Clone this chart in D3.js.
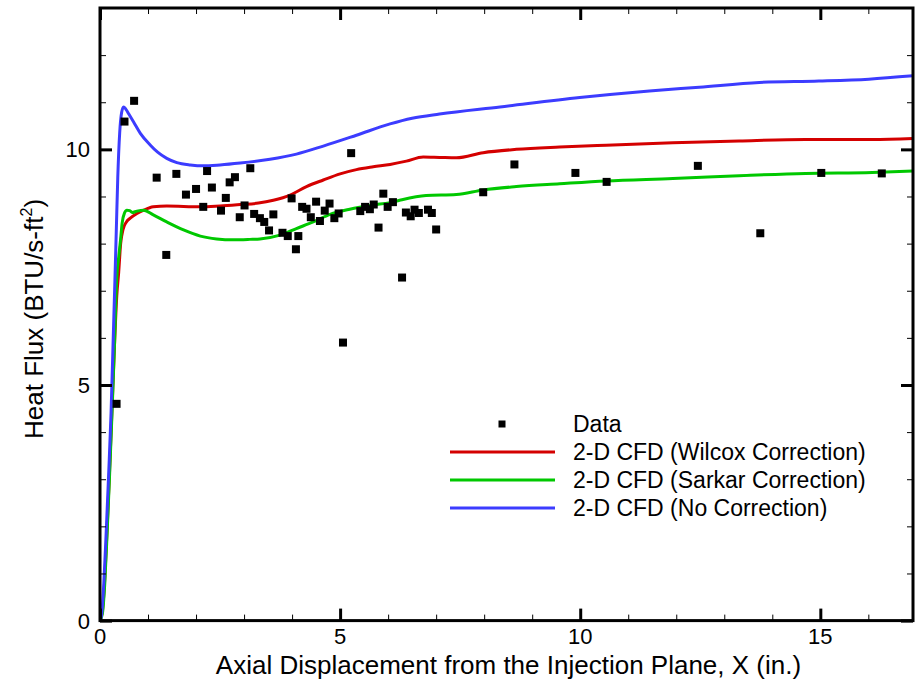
<!DOCTYPE html>
<html>
<head>
<meta charset="utf-8">
<script src="https://cdn.jsdelivr.net/npm/d3@7"></script>
<style>
  html, body { margin: 0; padding: 0; background: #fff; }
  svg text { font-family: Arial, "Liberation Sans", Helvetica, sans-serif; fill: #000; }
</style>
</head>
<body>
<svg id="chart" width="917" height="681"></svg>
<script>
// ---- Data ----
const dataX = [0.345,0.51,0.71,1.18,1.38,1.59,1.79,2.00,2.15,2.23,2.33,2.52,2.62,2.70,2.81,2.91,3.01,3.13,3.21,3.33,3.42,3.61,3.52,3.80,3.91,3.99,4.13,4.08,4.21,4.30,4.39,4.50,4.58,4.68,4.78,4.88,4.97,5.06,5.23,5.42,5.52,5.62,5.70,5.80,5.90,5.99,6.10,6.29,6.37,6.47,6.55,6.64,6.83,6.91,7.00,7.98,8.63,9.90,10.55,12.45,13.75,15.02,16.28];
const dataY = [4.60,10.59,11.03,9.40,7.76,9.48,9.04,9.16,8.78,9.54,9.19,8.70,8.97,9.30,9.41,8.56,8.81,9.60,8.63,8.54,8.46,8.62,8.28,8.23,8.16,8.96,8.16,7.88,8.78,8.74,8.56,8.89,8.48,8.70,8.85,8.54,8.64,5.90,9.92,8.69,8.78,8.73,8.83,8.34,9.06,8.78,8.88,7.28,8.66,8.58,8.72,8.65,8.72,8.65,8.30,9.09,9.68,9.50,9.31,9.65,8.22,9.50,9.49];

const wilcoxX = [0,0.05,0.1,0.15,0.2,0.25,0.3,0.35,0.39,0.43,0.48,0.55,0.63,0.77,0.91,1.11,1.39,2.09,2.5,2.92,3.3,3.61,3.96,4.30,4.65,5.0,5.34,5.69,6.04,6.38,6.73,7.07,7.42,7.98,8.67,9.57,10.54,11.93,13.31,14.69,16.08,16.93];
const wilcoxY = [0,0.2,0.9,2.0,3.2,4.5,5.8,6.9,7.4,8.0,8.3,8.46,8.54,8.64,8.71,8.78,8.80,8.78,8.80,8.83,8.86,8.92,9.03,9.21,9.35,9.48,9.57,9.63,9.68,9.75,9.84,9.83,9.82,9.93,10.00,10.05,10.09,10.14,10.18,10.21,10.21,10.23];

const sarkarX = [0,0.05,0.1,0.15,0.2,0.25,0.3,0.35,0.39,0.43,0.46,0.51,0.56,0.62,0.67,0.77,0.91,1.11,1.39,1.74,2.09,2.43,2.78,3.12,3.33,3.75,4.09,4.44,4.79,5.20,5.69,6.04,6.24,6.79,7.42,7.98,8.67,9.57,10.54,11.93,13.31,14.69,16.08,16.93];
const sarkarY = [0,0.15,0.8,1.9,3.1,4.4,5.8,7.3,7.72,8.1,8.43,8.65,8.71,8.70,8.66,8.69,8.71,8.61,8.46,8.29,8.16,8.10,8.08,8.09,8.10,8.18,8.32,8.46,8.62,8.73,8.82,8.87,8.92,9.02,9.04,9.14,9.21,9.27,9.33,9.38,9.44,9.49,9.51,9.54];

const noCorrX = [0,0.03,0.08,0.13,0.18,0.23,0.27,0.31,0.34,0.37,0.41,0.45,0.49,0.54,0.60,0.70,0.84,1.04,1.2,1.39,1.6,1.88,2.15,2.5,2.92,3.54,4.09,4.65,5.34,6.04,6.5,7.07,8.33,9.99,11.44,12.48,13.73,14.97,16.01,16.93];
const noCorrY = [0,0.1,0.8,1.9,3.1,4.4,5.8,7.2,8.3,9.4,10.35,10.78,10.90,10.85,10.75,10.58,10.34,10.10,9.94,9.81,9.72,9.67,9.65,9.67,9.71,9.79,9.90,10.07,10.30,10.54,10.66,10.75,10.90,11.10,11.24,11.32,11.42,11.45,11.49,11.56];

const xTicks = [0, 5, 10, 15];
const yTicks = [0, 5, 10];
const xMinorTicks = d3.range(0, 17, 1);
const yMinorTicks = d3.range(0, 14, 1);

const seriesNames = ["Data", "2-D CFD (Wilcox Correction)", "2-D CFD (Sarkar Correction)", "2-D CFD (No Correction)"];
const seriesColors = ["#000000", "#d40000", "#00c800", "#3c3cff"];

// ---- Layout ----
const svg = d3.select("#chart");
const L = 100, R = 913, T = 8, B = 620.6;
const x = d3.scaleLinear().domain([0, 16.93]).range([L, R]);
const y = d3.scaleLinear().domain([0, 13]).range([B, T]);

const plot = svg.append("g");
svg.append("clipPath").attr("id", "clip").append("rect")
  .attr("x", L).attr("y", T).attr("width", R - L).attr("height", B - T);

// curves
const curves = [
  [wilcoxX, wilcoxY, seriesColors[1]],
  [sarkarX, sarkarY, seriesColors[2]],
  [noCorrX, noCorrY, seriesColors[3]]
];
const line = d3.line().x(d => x(d[0])).y(d => y(d[1])).curve(d3.curveMonotoneX);
curves.forEach(([xs, ys, c]) => {
  plot.append("path")
    .datum(xs.map((v, i) => [v, ys[i]]))
    .attr("d", line)
    .attr("fill", "none")
    .attr("stroke", c)
    .attr("stroke-width", 3)
    .attr("clip-path", "url(#clip)");
});

// data points
const ms = 8;
plot.selectAll("rect.pt").data(dataX.map((v, i) => [v, dataY[i]])).enter()
  .append("rect").attr("class", "pt")
  .attr("x", d => x(d[0]) - ms / 2).attr("y", d => y(d[1]) - ms / 2)
  .attr("width", ms).attr("height", ms).attr("fill", "#000");

// axes (ticks inward on all sides)
function axisSet() {
  const minX = xMinorTicks.filter(v => !xTicks.includes(v));
  const minY = yMinorTicks.filter(v => !yTicks.includes(v));
  const defs = [
    [`translate(0,${B})`, d3.axisTop(x), minX, xTicks],
    [`translate(0,${T})`, d3.axisBottom(x), minX, xTicks],
    [`translate(${L},0)`, d3.axisRight(y), minY, yTicks],
    [`translate(${R},0)`, d3.axisLeft(y), minY, yTicks]
  ];
  defs.forEach(([tr, ax, mn, mj]) => {
    const g1 = svg.append("g").attr("transform", tr).call(ax.tickValues(mn).tickSize(6).tickFormat(""));
    g1.select(".domain").remove();
    g1.selectAll("line").attr("stroke", "#000").attr("stroke-width", 1);
    const g2 = svg.append("g").attr("transform", tr).call(ax.tickValues(mj).tickSize(12).tickFormat(""));
    g2.select(".domain").remove();
    g2.selectAll("line").attr("stroke", "#000").attr("stroke-width", 3);
  });
}
axisSet();

// frame
svg.append("rect").attr("x", L).attr("y", T).attr("width", R - L).attr("height", B - T)
  .attr("fill", "none").attr("stroke", "#000").attr("stroke-width", 3);

// tick labels
const fs = 22;
svg.append("g").selectAll("text").data(xTicks).enter().append("text")
  .attr("x", d => x(d)).attr("y", B + 23).attr("text-anchor", "middle")
  .attr("font-size", fs).text(d => d);
svg.append("g").selectAll("text").data(yTicks).enter().append("text")
  .attr("x", L - 10).attr("y", d => y(d) + 8).attr("text-anchor", "end")
  .attr("font-size", fs).text(d => d);

// axis titles
svg.append("text").attr("x", (L + R) / 2 + 2).attr("y", 674).attr("text-anchor", "middle")
  .attr("font-size", 26).text("Axial Displacement from the Injection Plane, X (in.)");
const yt = svg.append("text").attr("transform", "translate(43,439) rotate(-90)")
  .attr("text-anchor", "start").attr("font-size", 26);
yt.append("tspan").text("Heat Flux (BTU/s-ft");
yt.append("tspan").attr("font-size", 16).attr("dy", -11).text("2");
yt.append("tspan").attr("dy", 11).text(")");

// legend
const lg = svg.append("g");
const lgX0 = 450, lgX1 = 555, lgTX = 573, lgY = [424, 452, 480, 508];
seriesNames.forEach((n, i) => {
  if (i === 0) {
    lg.append("rect").attr("x", 502 - 3.5).attr("y", lgY[i] - 3.5).attr("width", 7).attr("height", 7).attr("fill", "#000");
  } else {
    lg.append("line").attr("x1", lgX0).attr("x2", lgX1).attr("y1", lgY[i]).attr("y2", lgY[i])
      .attr("stroke", seriesColors[i]).attr("stroke-width", 3);
  }
  lg.append("text").attr("x", lgTX).attr("y", lgY[i] + 8).attr("font-size", 23).text(n);
});
</script>
</body>
</html>
